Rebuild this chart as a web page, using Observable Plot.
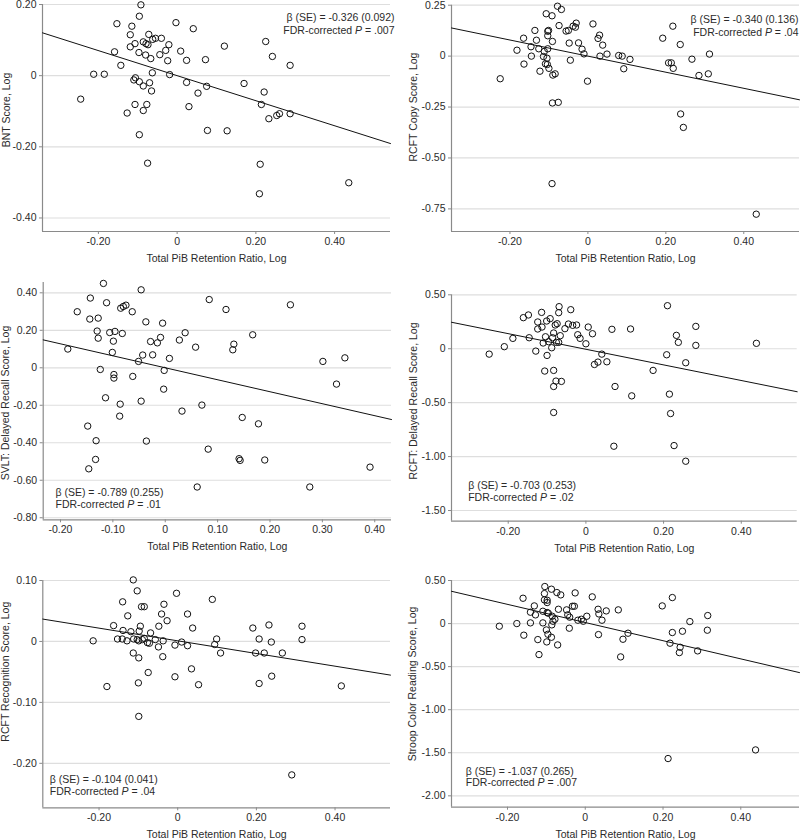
<!DOCTYPE html>
<html>
<head>
<meta charset="utf-8">
<script src="https://cdn.jsdelivr.net/npm/d3@7"></script>
<script src="https://cdn.jsdelivr.net/npm/@observablehq/plot@0.6"></script>
<style>
  html, body { margin: 0; padding: 0; background: #fff; }
  #grid { position: relative; width: 800px; height: 840px; background: #fff; }
  .panel { position: absolute; width: 400px; height: 280px; }
  .panel svg { overflow: visible; }
</style>
</head>
<body>
<div id="grid"></div>
<script>
// ---------------- DATA ----------------
const xAxisLabel = "Total PiB Retention Ratio, Log";
const yAxisLabels = [
  "BNT Score, Log",
  "RCFT Copy Score, Log",
  "SVLT: Delayed Recall Score, Log",
  "RCFT: Delayed Recall Score, Log",
  "RCFT Recognition Score, Log",
  "Stroop Color Reading Score, Log"
];
const betaTexts = [
  "β (SE) = -0.326 (0.092)",
  "β (SE) = -0.340 (0.136)",
  "β (SE) = -0.789 (0.255)",
  "β (SE) = -0.703 (0.253)",
  "β (SE) = -0.104 (0.041)",
  "β (SE) = -1.037 (0.265)"
];
const pValues = [".007", ".04", ".01", ".02", ".04", ".007"];
const fitIntercepts = [0.000, 0.000, 0.000, -0.005, 0.001, 0.012];
const fitSlopes = [-0.352, -0.395, -0.639, -0.724, -0.104, -1.055];

const xTicksWide = [-0.2, 0, 0.2, 0.4];
const xTicksSvlt = [-0.2, -0.1, 0, 0.1, 0.2, 0.3, 0.4];
const yTicksBnt = [0.2, 0, -0.2, -0.4];
const yTicksRcftCopy = [0.25, 0, -0.25, -0.5, -0.75];
const yTicksSvlt = [0.4, 0.2, 0, -0.2, -0.4, -0.6, -0.8];
const yTicksRcftDelayed = [0.5, 0, -0.5, -1.0, -1.5];
const yTicksRcftRecog = [0.1, 0, -0.1, -0.2];
const yTicksStroop = [0.5, 0, -0.5, -1.0, -1.5, -2.0];

const bntPoints = [[-0.092,0.199],[-0.096,0.167],[-0.153,0.146],[-0.115,0.139],[-0.003,0.149],[0.041,0.132],[-0.119,0.115],[-0.072,0.116],[-0.062,0.102],[-0.055,0.105],[-0.040,0.105],[-0.107,0.090],[-0.119,0.081],[-0.086,0.095],[-0.079,0.090],[-0.074,0.087],[-0.021,0.087],[-0.029,0.071],[0.009,0.069],[-0.159,0.067],[-0.097,0.065],[-0.080,0.058],[-0.044,0.059],[-0.067,0.048],[-0.024,0.042],[0.024,0.043],[-0.143,0.029],[-0.063,0.008],[-0.212,0.004],[-0.185,0.004],[-0.019,0.003],[-0.106,-0.006],[-0.110,-0.012],[-0.096,-0.017],[-0.070,-0.020],[0.024,-0.019],[-0.086,-0.029],[-0.065,-0.043],[0.053,-0.049],[-0.245,-0.066],[-0.107,-0.081],[-0.077,-0.081],[0.030,-0.087],[-0.086,-0.098],[-0.127,-0.105],[-0.096,-0.166],[-0.075,-0.246],[0.120,0.083],[0.225,0.096],[0.072,0.045],[0.242,0.054],[0.287,0.029],[0.170,-0.022],[0.075,-0.030],[0.221,-0.046],[0.214,-0.081],[0.233,-0.121],[0.253,-0.112],[0.260,-0.107],[0.287,-0.107],[0.077,-0.154],[0.127,-0.155],[0.211,-0.249],[0.209,-0.332],[0.436,-0.301]];

const rcftCopyPoints = [[-0.078,0.245],[-0.068,0.229],[-0.107,0.208],[-0.092,0.198],[0.013,0.158],[-0.030,0.162],[-0.038,0.147],[-0.032,0.142],[-0.074,0.150],[-0.136,0.126],[-0.101,0.126],[-0.103,0.122],[-0.056,0.123],[-0.050,0.126],[-0.165,0.088],[-0.103,0.100],[-0.132,0.078],[-0.091,0.072],[-0.048,0.064],[-0.024,0.065],[-0.146,0.046],[-0.126,0.036],[-0.103,0.036],[-0.182,0.029],[-0.112,0.023],[-0.015,0.034],[-0.010,0.011],[-0.145,0.000],[-0.114,-0.002],[-0.105,-0.010],[-0.109,-0.038],[-0.104,-0.041],[-0.045,-0.020],[-0.164,-0.039],[-0.100,-0.060],[-0.123,-0.074],[-0.084,-0.087],[-0.090,-0.093],[-0.225,-0.111],[-0.001,-0.123],[-0.091,-0.230],[-0.076,-0.227],[-0.092,-0.626],[0.030,0.103],[0.026,0.087],[0.038,0.054],[0.049,0.010],[0.031,0.000],[0.079,0.003],[0.088,0.000],[0.108,-0.016],[0.092,-0.062],[0.218,0.147],[0.192,0.088],[0.237,0.057],[0.312,0.010],[0.267,-0.015],[0.207,-0.033],[0.214,-0.033],[0.219,-0.060],[0.285,-0.095],[0.309,-0.087],[0.238,-0.284],[0.245,-0.350],[0.432,-0.776]];

const svltPoints = [[-0.118,0.450],[-0.046,0.416],[-0.143,0.372],[-0.112,0.347],[-0.085,0.318],[-0.080,0.327],[-0.075,0.334],[-0.168,0.299],[-0.063,0.299],[-0.144,0.260],[-0.128,0.265],[-0.037,0.245],[-0.005,0.238],[-0.130,0.196],[-0.106,0.188],[-0.096,0.194],[-0.082,0.183],[0.038,0.187],[-0.128,0.158],[-0.099,0.142],[-0.028,0.140],[-0.015,0.133],[-0.009,0.162],[0.027,0.148],[0.058,0.110],[-0.186,0.100],[-0.101,0.082],[-0.043,0.068],[-0.024,0.069],[0.008,0.050],[-0.051,0.034],[-0.124,-0.009],[-0.002,-0.014],[-0.098,-0.036],[-0.098,-0.055],[-0.062,-0.046],[-0.003,-0.114],[-0.114,-0.160],[-0.046,-0.178],[-0.086,-0.194],[0.032,-0.231],[-0.087,-0.258],[-0.148,-0.311],[-0.132,-0.389],[-0.036,-0.391],[-0.133,-0.489],[-0.146,-0.539],[0.084,0.364],[0.116,0.311],[0.239,0.336],[0.167,0.176],[0.131,0.126],[0.129,0.096],[0.301,0.034],[0.343,0.053],[0.327,-0.087],[0.070,-0.199],[0.147,-0.265],[0.178,-0.299],[0.082,-0.434],[0.141,-0.485],[0.143,-0.494],[0.190,-0.492],[0.391,-0.530],[0.061,-0.636],[0.276,-0.636]];

const rcftDelayedPoints = [[-0.069,0.390],[-0.070,0.334],[-0.039,0.362],[-0.148,0.313],[-0.161,0.288],[-0.114,0.337],[-0.092,0.279],[-0.101,0.257],[-0.124,0.248],[-0.074,0.232],[-0.079,0.220],[-0.045,0.229],[-0.034,0.217],[-0.024,0.220],[-0.113,0.201],[-0.124,0.183],[-0.054,0.186],[0.006,0.201],[-0.083,0.146],[0.017,0.139],[-0.021,0.130],[-0.015,0.096],[-0.104,0.111],[-0.066,0.121],[-0.086,0.102],[-0.188,0.096],[-0.146,0.102],[-0.096,0.065],[-0.110,0.053],[-0.076,0.059],[-0.070,0.059],[0.000,0.046],[-0.210,0.019],[-0.088,0.009],[-0.129,-0.022],[-0.249,-0.050],[-0.100,-0.062],[0.022,-0.146],[0.031,-0.124],[-0.106,-0.207],[-0.083,-0.201],[-0.077,-0.300],[-0.063,-0.303],[-0.083,-0.350],[-0.083,-0.591],[0.067,0.180],[0.115,0.183],[0.210,0.399],[0.283,0.207],[0.233,0.124],[0.238,0.059],[0.283,0.031],[0.439,0.050],[0.041,-0.050],[0.054,-0.121],[0.208,-0.056],[0.257,-0.130],[0.173,-0.201],[0.075,-0.350],[0.118,-0.437],[0.215,-0.421],[0.218,-0.601],[0.072,-0.904],[0.227,-0.898],[0.257,-1.043]];

const rcftRecogPoints = [[-0.113,0.101],[-0.103,0.083],[-0.003,0.079],[-0.140,0.065],[-0.092,0.057],[-0.085,0.057],[-0.035,0.061],[0.025,0.045],[-0.041,0.045],[-0.127,0.042],[-0.027,0.034],[-0.163,0.026],[-0.048,0.025],[-0.095,0.025],[0.038,0.022],[-0.139,0.018],[-0.119,0.016],[-0.098,0.017],[-0.069,0.014],[-0.153,0.004],[-0.141,0.004],[-0.129,0.001],[-0.215,0.001],[-0.112,0.004],[-0.103,0.003],[-0.099,0.001],[-0.090,0.003],[-0.085,0.005],[-0.077,-0.002],[-0.072,-0.003],[-0.057,0.003],[-0.037,0.001],[0.010,-0.001],[-0.007,-0.006],[0.025,-0.007],[-0.049,-0.009],[-0.113,-0.019],[-0.099,-0.027],[-0.038,-0.025],[-0.075,-0.051],[0.035,-0.045],[-0.007,-0.058],[-0.180,-0.074],[-0.100,-0.068],[-0.099,-0.123],[0.088,0.069],[0.232,0.027],[0.191,0.022],[0.316,0.025],[0.099,0.004],[0.207,0.004],[0.238,-0.001],[0.316,0.003],[0.094,-0.005],[0.109,-0.019],[0.198,-0.019],[0.220,-0.019],[0.266,-0.019],[0.053,-0.071],[0.239,-0.057],[0.207,-0.069],[0.416,-0.073],[0.290,-0.219]];

const stroopPoints = [[-0.104,0.430],[-0.087,0.399],[-0.105,0.348],[-0.073,0.360],[-0.063,0.333],[-0.026,0.356],[0.018,0.310],[-0.160,0.294],[-0.105,0.275],[-0.098,0.271],[-0.098,0.244],[-0.131,0.205],[-0.033,0.201],[-0.028,0.201],[-0.069,0.166],[-0.048,0.159],[-0.141,0.132],[-0.109,0.143],[-0.098,0.128],[-0.095,0.120],[-0.128,0.101],[-0.045,0.101],[-0.040,0.074],[-0.085,0.085],[0.004,0.085],[-0.078,0.050],[-0.083,0.027],[-0.019,0.039],[-0.010,0.050],[-0.005,0.027],[-0.176,0.000],[-0.141,0.008],[-0.109,0.008],[-0.086,-0.015],[-0.221,-0.031],[-0.041,-0.054],[-0.100,-0.074],[-0.158,-0.135],[-0.096,-0.124],[-0.087,-0.159],[-0.122,-0.186],[-0.099,-0.213],[-0.071,-0.248],[-0.119,-0.360],[0.033,0.166],[0.035,0.112],[0.054,0.147],[0.085,0.159],[0.043,0.039],[0.034,-0.128],[0.097,-0.182],[0.110,-0.112],[0.091,-0.387],[0.198,0.205],[0.224,0.302],[0.269,0.023],[0.315,0.093],[0.314,-0.077],[0.224,-0.104],[0.250,-0.089],[0.218,-0.228],[0.244,-0.275],[0.242,-0.337],[0.289,-0.317],[0.213,-1.567],[0.438,-1.467]];

// ---------------- LAYOUT ----------------
const FONT = "'Liberation Sans', Arial, sans-serif";
const FS = 10.5;
const panels = [
  {pts: bntPoints, xt: xTicksWide, yt: yTicksBnt, xd: [-0.342, 0.542], yd: [-0.438, 0.2],
   m: [4, 10, 49, 42], anchor: "top-right", dx: 4, dy: [12.7, 26], lab: [6, 110]},
  {pts: rcftCopyPoints, xt: xTicksWide, yt: yTicksRcftCopy, xd: [-0.350, 0.543], yd: [-0.861, 0.25],
   m: [4.7, 1, 49, 51], anchor: "top-right", dx: -1, dy: [14.3, 27.3], lab: [13.3, 107]},
  {pts: svltPoints, xt: xTicksSvlt, yt: yTicksSvlt, xd: [-0.233, 0.432], yd: [-0.811, 0.455],
   m: [2, 9, 40.7, 42.7], anchor: "bottom-left", dx: 12.3, dy: [-27.3, -15.3], lab: [5, 123]},
  {pts: rcftDelayedPoints, xt: xTicksWide, yt: yTicksRcftDelayed, xd: [-0.346, 0.544], yd: [-1.599, 0.5],
   m: [14.3, 3.3, 39.3, 51], anchor: "bottom-left", dx: 16.7, dy: [-36, -23.4], lab: [13.3, 121]},
  {pts: rcftRecogPoints, xt: xTicksWide, yt: yTicksRcftRecog, xd: [-0.343, 0.541], yd: [-0.273, 0.10],
   m: [20, 10, 32.7, 42.3], anchor: "bottom-left", dx: 7, dy: [-28, -16.6], lab: [5, 111.7]},
  {pts: stroopPoints, xt: xTicksWide, yt: yTicksStroop, xd: [-0.344, 0.551], yd: [-2.132, 0.5],
   m: [20, 1, 33.3, 51], anchor: "bottom-left", dx: 14.3, dy: [-36, -24.7], lab: [12, 124]}
];

const fmt = d => d === 0 ? "0" : d.toFixed(2);
const AXIS = "#8a8a8a";
const TXT = "#2b2b2b";
const grid = document.getElementById("grid");

panels.forEach((p, i) => {
  const a = fitIntercepts[i], b = fitSlopes[i];
  const fit = p.xd.map(x => ({x, y: a + b * x}));
  const textAnchor = p.anchor.endsWith("right") ? "end" : "start";
  const svg = Plot.plot({
    width: 400, height: 280,
    marginTop: p.m[0], marginRight: p.m[1], marginBottom: p.m[2], marginLeft: p.m[3],
    style: {fontFamily: FONT, fontSize: FS + "px", color: TXT, background: "#fff", overflow: "visible"},
    x: {domain: p.xd, label: null},
    y: {domain: p.yd, label: null},
    marks: [
      Plot.gridY(p.yt, {stroke: "#dedede", strokeOpacity: 1, strokeWidth: 1.2}),
      Plot.axisY(p.yt, {tickSize: 3, tickPadding: 3, tickFormat: fmt, label: null, stroke: AXIS, fill: TXT}),
      Plot.axisX(p.xt, {tickSize: 3, tickPadding: 3, tickFormat: fmt, label: null, stroke: AXIS, fill: TXT}),
      Plot.ruleX([p.xd[0]], {stroke: AXIS, strokeWidth: 1.2}),
      Plot.ruleY([p.yd[0]], {stroke: AXIS, strokeWidth: 1.2}),
      Plot.line(fit, {x: "x", y: "y", stroke: "#111", strokeWidth: 1}),
      Plot.dot(p.pts, {x: d => d[0], y: d => d[1], r: 3.2, stroke: "#111", strokeWidth: 1, fill: "none"}),
      Plot.text([betaTexts[i]], {frameAnchor: p.anchor, textAnchor, lineAnchor: "middle", dx: p.dx, dy: p.dy[0], fontSize: FS, fill: TXT}),
      Plot.text(["FDR-corrected P = " + pValues[i]], {frameAnchor: p.anchor, textAnchor, lineAnchor: "middle", dx: p.dx, dy: p.dy[1], fontSize: FS, fill: TXT}),
      Plot.text([xAxisLabel], {frameAnchor: "bottom", lineAnchor: "middle", dy: 27, fontSize: FS, fill: TXT})
    ]
  });
  // italic P
  d3.select(svg).selectAll("text").each(function() {
    const t = this.textContent;
    if (t.startsWith("FDR-corrected P")) {
      const rest = t.slice("FDR-corrected P".length);
      const sel = d3.select(this);
      sel.text("");
      sel.append("tspan").text("FDR-corrected ");
      sel.append("tspan").attr("font-style", "italic").text("P");
      sel.append("tspan").text(rest);
    }
  });
  // y label
  d3.select(svg).append("text")
    .attr("transform", `translate(${p.lab[0]},${p.lab[1]}) rotate(-90)`)
    .attr("text-anchor", "middle")
    .attr("dominant-baseline", "central")
    .attr("fill", TXT)
    .style("font-family", FONT)
    .style("font-size", FS + "px")
    .text(yAxisLabels[i]);
  const div = document.createElement("div");
  div.className = "panel";
  div.style.left = (i % 2) * 400 + "px";
  div.style.top = Math.floor(i / 2) * 280 + "px";
  div.appendChild(svg);
  grid.appendChild(div);
});
</script>
</body>
</html>
